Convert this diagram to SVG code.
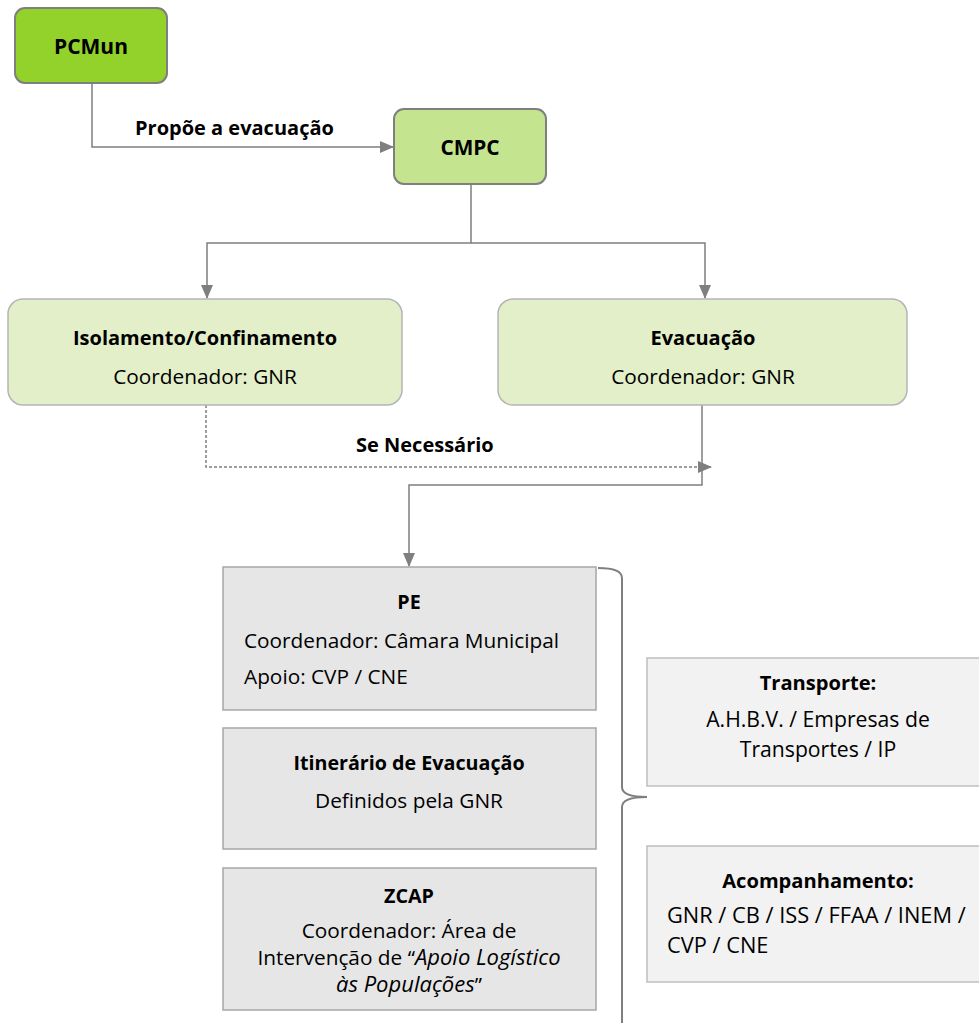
<svg xmlns="http://www.w3.org/2000/svg" width="979" height="1023" viewBox="0 0 979 1023">
<style>
text{font-family:"Open Sans","Noto Sans","Liberation Sans",sans-serif;fill:#000;font-size:20.8px}
.b{font-weight:bold;font-size:19.7px}
.tb{font-weight:bold;font-size:20px}
.c{text-anchor:middle}
.i{font-style:italic;font-size:22px}
.r{font-size:21.2px}
.rb{font-weight:bold;font-size:20.1px}
.g1{fill:#93d12b;stroke:#7f7f7f;stroke-width:2}
.g2{fill:#c5e48f;stroke:#7f7f7f;stroke-width:2}
.g3{fill:#e2efc8;stroke:#b5b5b5;stroke-width:1.5}
.gr{fill:#e6e6e6;stroke:#a6a6a6;stroke-width:1.5}
.lg{fill:#f2f2f2;stroke:#bfbfbf;stroke-width:1.5}
.ln{fill:none;stroke:#7f7f7f;stroke-width:1.5}
.dash{stroke-dasharray:3 2}
</style>
<defs>
<marker id="ah" markerUnits="userSpaceOnUse" markerWidth="14" markerHeight="12" refX="13" refY="6" orient="auto">
<path d="M0,0 L14,6 L0,12 Z" fill="#7f7f7f"/>
</marker>
</defs>
<g id="connectors">
<path class="ln" d="M92,83 V147 H393" marker-end="url(#ah)"/>
<path class="ln" d="M471,184 V243 H207 V298" marker-end="url(#ah)"/>
<path class="ln" d="M471,243 H705 V298" marker-end="url(#ah)"/>
<path class="ln dash" d="M206,405 V467 H711" marker-end="url(#ah)"/>
<path class="ln" d="M702,405 V485 H409 V566" marker-end="url(#ah)"/>
<path id="brace" fill="none" stroke="#7f7f7f" stroke-width="2" d="M598,568 Q622,568 622,578 V787 Q622,797 647,797 Q622,797 622,807 V1023"/>
<text class="tb" x="135" y="135">Propõe a evacuação</text>
<text class="tb" x="356" y="452">Se Necessário</text>
</g>
<g id="PCMun">
<rect class="g1" x="15" y="8" width="152" height="75" rx="10"/>
<text class="tb c" x="91" y="54" style="font-size:21px">PCMun</text>
</g>
<g id="CMPC">
<rect class="g2" x="394" y="109" width="152" height="75" rx="10"/>
<text class="tb c" x="470" y="155" style="font-size:20.8px">CMPC</text>
</g>
<g id="Isolamento">
<rect class="g3" x="8" y="299" width="394" height="106" rx="15"/>
<text class="tb c" x="205" y="345">Isolamento/Confinamento</text>
<text class="c" x="205" y="384">Coordenador: GNR</text>
</g>
<g id="Evacuacao">
<rect class="g3" x="498" y="299" width="409" height="106" rx="15"/>
<text class="tb c" x="703" y="345">Evacuação</text>
<text class="c" x="703" y="384">Coordenador: GNR</text>
</g>
<g id="PE">
<rect class="gr" x="223" y="567" width="373" height="143"/>
<text class="b c" x="409" y="609">PE</text>
<text x="244" y="648">Coordenador: Câmara Municipal</text>
<text x="244" y="684">Apoio: CVP / CNE</text>
</g>
<g id="Itinerario">
<rect class="gr" x="223" y="728" width="373" height="121"/>
<text class="b c" x="409" y="770">Itinerário de Evacuação</text>
<text class="c" x="409" y="808">Definidos pela GNR</text>
</g>
<g id="ZCAP">
<rect class="gr" x="223" y="868" width="373" height="142"/>
<text class="b c" x="409" y="903">ZCAP</text>
<text class="c" x="409" y="938">Coordenador: Área de</text>
<text class="c" x="409" y="965">Intervenção de “<tspan class="i">Apoio Logístico</tspan></text>
<text class="c" x="409" y="992"><tspan class="i">às Populações</tspan>”</text>
</g>
<g id="Transporte">
<rect class="lg" x="647" y="658" width="340" height="128"/>
<text class="rb c" x="818" y="690">Transporte:</text>
<text class="r c" x="818" y="727">A.H.B.V. / Empresas de</text>
<text class="r c" x="818" y="757">Transportes / IP</text>
</g>
<g id="Acompanhamento">
<rect class="lg" x="647" y="846" width="340" height="136"/>
<text class="rb c" x="818" y="888">Acompanhamento:</text>
<text class="r" x="667" y="923" style="font-size:21.8px">GNR / CB / ISS / FFAA / INEM /</text>
<text class="r" x="667" y="953" style="font-size:21.8px">CVP / CNE</text>
</g>
</svg>
